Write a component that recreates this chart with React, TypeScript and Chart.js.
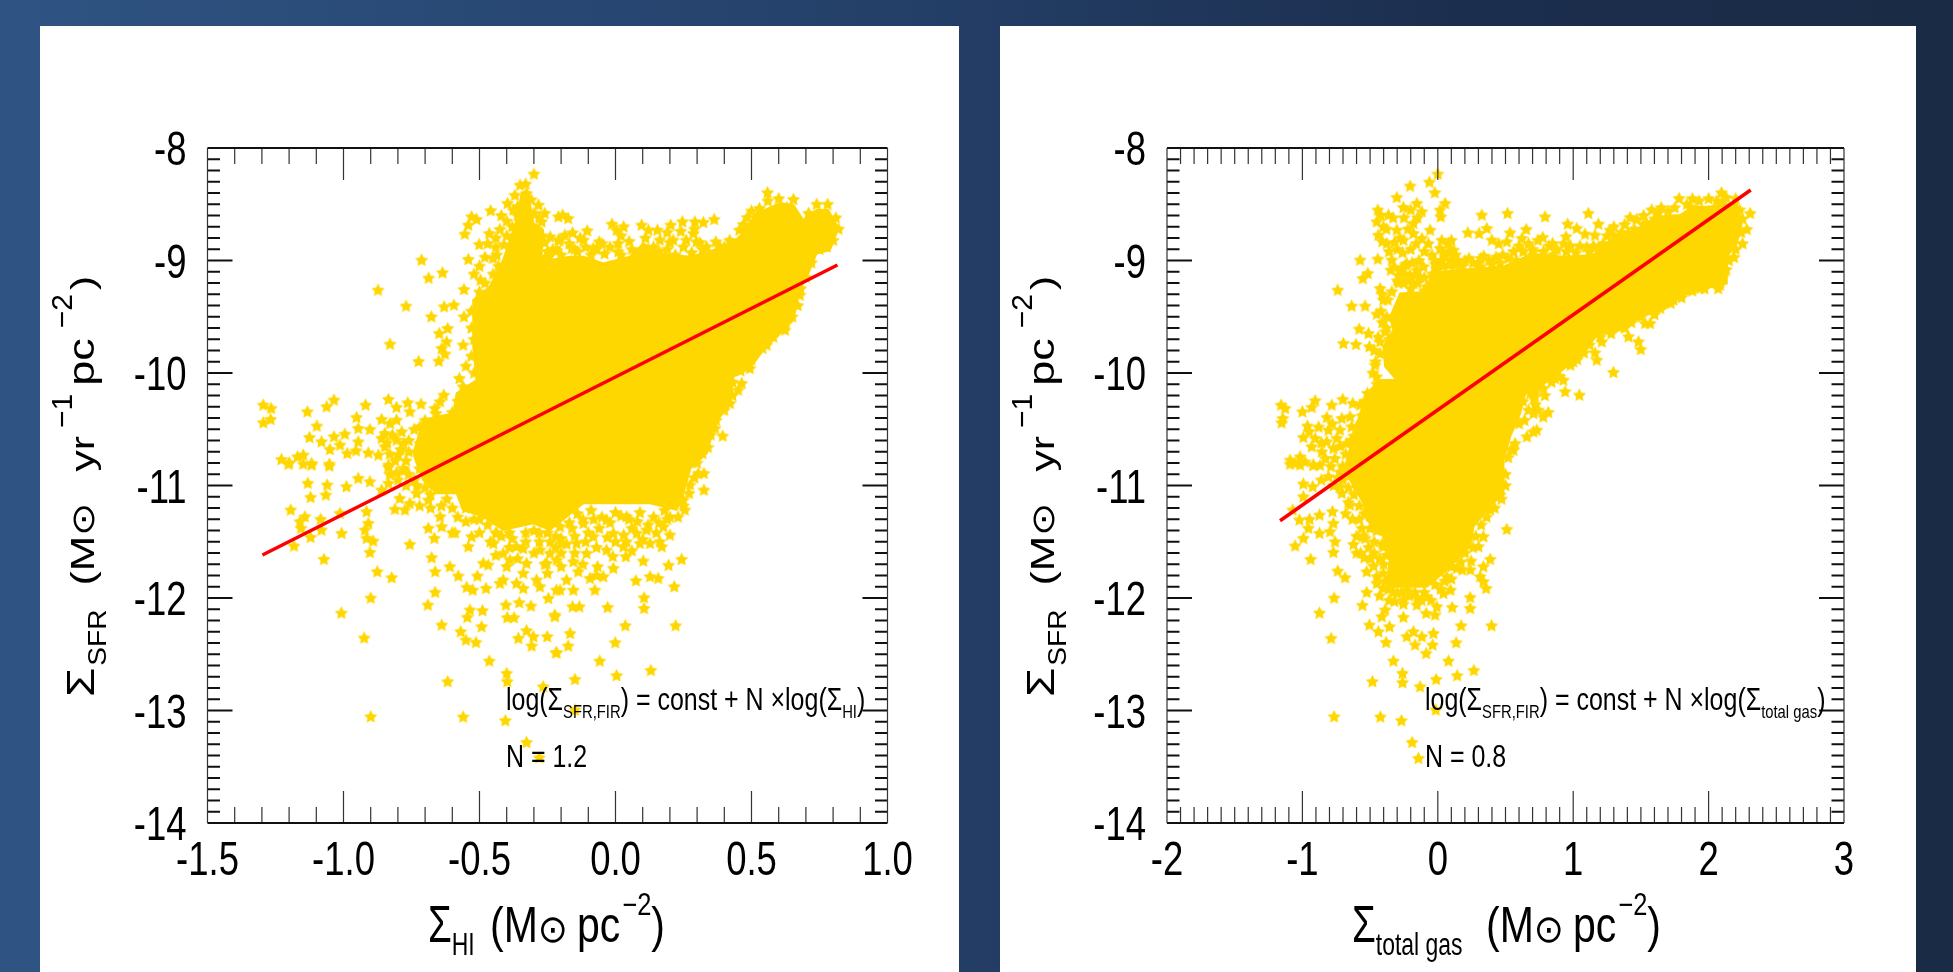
import React, { useEffect, useRef } from "react";
import { Chart, registerables } from "chart.js";

Chart.register(...registerables);

const hiTicks = [-1.5, -1.0, -0.5, 0.0, 0.5, 1.0];
const hiTickLabels = ["-1.5", "-1.0", "-0.5", "0.0", "0.5", "1.0"];
const gasTicks = [-2, -1, 0, 1, 2, 3];
const gasTickLabels = ["-2", "-1", "0", "1", "2", "3"];
const sfrTicks = [-14, -13, -12, -11, -10, -9, -8];
const sfrTickLabels = ["-14", "-13", "-12", "-11", "-10", "-9", "-8"];

const hiFit = [[-1.298, -11.618], [0.816, -9.04]];
const gasFit = [[-1.165, -11.313], [2.311, -8.373]];

// outline of the solid, fully overlapped part of each cloud
const hiCore = [
  [-0.596,-10.359],[-0.584,-10.181],[-0.511,-10.063],[-0.523,-9.766],[-0.523,-9.351],[-0.462,-9.233],[-0.413,-8.996],[-0.364,-8.64],[-0.345,-8.403],[-0.321,-8.403],[-0.302,-8.67],[-0.266,-8.729],[-0.272,-8.966],[-0.204,-8.877],
  [-0.241,-8.996],[-0.167,-8.966],[-0.118,-8.966],[-0.045,-9.026],[0.053,-8.966],[0.102,-8.848],[0.163,-8.937],[0.274,-8.966],[0.372,-8.907],[0.408,-8.877],[0.458,-8.788],[0.519,-8.581],[0.605,-8.492],[0.654,-8.507],[0.69,-8.64],[0.739,-8.551],[0.782,-8.551],[0.819,-8.714],[0.788,-8.907],[0.739,-8.937],[0.709,-9.114],[0.672,-9.292],[0.654,-9.529],[0.605,-9.648],[0.543,-9.796],[0.494,-9.959],[0.433,-10.033],[0.421,-10.27],[0.384,-10.389],[0.36,-10.507],[0.335,-10.714],[0.274,-10.848],
  [0.274,-10.862],[0.249,-11.069],[0.225,-11.217],[0.127,-11.158],[0.004,-11.158],[-0.118,-11.158],[-0.18,-11.277],[-0.241,-11.395],
  [-0.302,-11.336],[-0.413,-11.395],[-0.486,-11.277],[-0.56,-11.217],[-0.584,-11.069],[-0.658,-11.069],[-0.707,-10.951],[-0.731,-10.803],[-0.743,-10.714],[-0.707,-10.418],[-0.658,-10.389],[-0.596,-10.359],
];

const hiStars = [
  [-0.3,-8.231],[-0.351,-8.329],[-0.327,-8.403],[-0.397,-8.492],[-0.459,-8.557],[-0.283,-8.507],[-0.529,-8.611],[-0.511,-8.634],[-0.541,-8.685],[-0.554,-8.765],[-0.464,-8.759],[-0.425,-8.723],[-0.501,-8.857],[-0.541,-8.99],[-0.437,-8.951],[-0.713,-8.996],[-0.636,-9.108],[-0.687,-9.156],[-0.873,-9.263],[-0.557,-9.257],[-0.496,-9.174],[-0.77,-9.405],[-0.63,-9.411],[-0.594,-9.396],[-0.677,-9.5],[-0.557,-9.5],[-0.617,-9.603],[-0.648,-9.648],[-0.621,-9.722],[-0.829,-9.743],[-0.639,-9.781],[-0.627,-9.831],[-0.65,-9.894],[-0.724,-9.897],[-0.56,-9.751],[-0.55,-9.938],[-0.574,-10.048],[-0.56,-10.122],[-0.631,-10.196],[-0.645,-10.255],
  [-1.295,-10.285],[-1.266,-10.314],[-1.295,-10.442],[-1.268,-10.412],[-1.133,-10.344],[-1.035,-10.24],[-1.062,-10.299],[-0.919,-10.285],[-0.835,-10.234],[-0.764,-10.264],[-0.715,-10.276],[-0.805,-10.305],[-0.756,-10.344],[-0.664,-10.314],[-0.952,-10.394],[-0.86,-10.412],[-0.805,-10.418],[-1.098,-10.471],[-0.946,-10.492],[-0.903,-10.501],[-0.995,-10.543],[-1.035,-10.566],[-1.125,-10.572],[-1.081,-10.611],[-0.946,-10.611],[-0.848,-10.537],[-0.786,-10.522],[-0.719,-10.477],[-1.013,-10.64],[-1.05,-10.679],[-0.954,-10.691],[-0.986,-10.715],[-0.909,-10.709],[-0.872,-10.729],[-0.848,-10.655],[-0.799,-10.729],[-0.78,-10.625],[-0.719,-10.625],[-1.228,-10.768],[-1.199,-10.798],[-1.169,-10.744],[-1.148,-10.729],[-1.117,-10.803],[-1.052,-10.809],[-0.835,-10.818],[-0.78,-10.848],[-0.805,-10.596],[-0.829,-10.448],
  [-1.203,-10.809],[-1.148,-10.809],[-1.117,-10.817],[-1.052,-10.826],[-0.835,-10.838],[-0.805,-10.886],[-0.778,-10.868],[-0.946,-10.936],[-0.903,-10.966],[-0.989,-11.01],[-1.131,-10.98],[-1.06,-10.995],[-1.121,-11.105],[-1.065,-11.084],[-0.835,-10.98],[-0.86,-11.04],[-1.194,-11.217],[-1.142,-11.277],[-1.16,-11.321],[-1.156,-11.38],[-1.084,-11.3],[-1.081,-11.395],[-1.013,-11.247],[-1.007,-11.425],[-1.121,-11.46],[-1.182,-11.537],[-0.915,-11.232],[-0.909,-11.336],[-0.921,-11.395],[-0.915,-11.469],[-0.891,-11.493],[-0.903,-11.594],[-1.072,-11.656],[-0.876,-11.766],[-0.823,-11.819],[-0.9,-12.0],[-1.008,-12.133],[-0.924,-12.355],
  [-0.811,-11.211],[-0.774,-11.217],[-0.756,-11.158],[-0.793,-11.114],[-0.731,-11.069],[-0.688,-11.129],[-0.756,-11.523],[-0.688,-11.38],[-0.666,-11.469],[-0.645,-11.277],[-0.639,-11.366],[-0.59,-11.419],[-0.541,-11.543],[-0.529,-11.454],[-0.676,-11.641],[-0.663,-11.766],[-0.609,-11.721],[-0.578,-11.804],[-0.508,-11.804],[-0.547,-11.905],[-0.525,-11.929],[-0.476,-11.914],[-0.663,-11.949],[-0.69,-12.062],[-0.639,-12.24],[-0.535,-12.106],[-0.489,-12.112],[-0.545,-12.171],[-0.492,-12.255],[-0.569,-12.299],[-0.55,-12.373],[-0.513,-12.394],[-0.464,-12.56],[-0.4,-12.669],[-0.398,-12.743],[-0.617,-12.743],[-0.9,-13.055],[-0.56,-13.057],[-0.405,-13.09],[-0.327,-13.283],[-0.28,-13.419],[-0.266,-12.788],
  [-0.468,-11.706],[-0.413,-11.84],[-0.388,-11.662],[-0.339,-11.78],[-0.29,-11.84],[-0.339,-11.914],[-0.253,-11.692],[-0.449,-11.514],[-0.403,-12.062],[-0.354,-12.041],[-0.311,-12.071],[-0.398,-12.174],[-0.373,-12.174],[-0.247,-12.003],[-0.223,-12.151],[-0.357,-12.358],[-0.327,-12.29],[-0.302,-12.343],[-0.308,-12.426],[-0.251,-12.343],[-0.219,-12.486],[-0.217,-11.929],[-0.425,-11.869],[-0.364,-11.869],[-0.278,-11.899],[-0.486,-11.691],[-0.413,-11.603],[-0.327,-11.692],[-0.241,-11.603],[-0.278,-11.573],[-0.364,-11.543],[-0.437,-11.425],
  [0.304,-10.892],[0.325,-10.892],[0.325,-11.04],[0.274,-10.995],[0.255,-11.217],[0.249,-11.129],[0.2,-11.44],[0.163,-11.499],[0.243,-11.656],[0.195,-11.709],[0.102,-11.671],[0.038,-11.632],[0.127,-11.81],[0.157,-11.825],[0.075,-11.846],[0.216,-11.899],[0.105,-11.997],[0.105,-12.092],[0.221,-12.246],[-0.029,-12.083],[0.036,-12.246],[-0.001,-12.397],[-0.058,-12.56],[0.13,-12.643],[0.004,-12.69],[-0.149,-12.723],[-0.149,-12.995],[-0.167,-12.314],[-0.174,-12.426],[-0.216,-12.486],[-0.158,-12.077],[-0.133,-12.077],[-0.223,-12.166],[-0.076,-11.929],[-0.155,-11.929],[-0.204,-11.929],[-0.045,-11.81],[-0.008,-11.736],[-0.066,-11.721],[-0.094,-11.825],[-0.137,-11.766],[-0.18,-11.84],[-0.155,-11.677],[-0.216,-11.662],[-0.106,-11.603],[-0.033,-11.573],[0.029,-11.543],[0.09,-11.514],[0.127,-11.514],[0.17,-11.543],[0.078,-11.425],[-0.008,-11.425],[-0.082,-11.454],[-0.143,-11.514],[-0.198,-11.514],[0.114,-11.395],[0.176,-11.366],[-0.033,-11.306],[0.041,-11.277],[-0.118,-11.336],[-0.204,-11.366],
  [0.559,-8.397],[0.654,-8.457],[0.529,-8.537],[0.484,-8.617],[0.455,-8.729],[0.369,-8.833],[0.363,-8.634],[0.323,-8.661],[0.292,-8.655],[0.246,-8.655],[0.203,-8.685],[0.286,-8.759],[0.298,-8.833],[0.212,-8.818],[0.154,-8.729],[0.121,-8.729],[0.096,-8.685],[0.163,-8.818],[0.004,-8.729],[-0.013,-8.676],[0.01,-8.848],[0.01,-8.922],[-0.06,-8.833],[-0.104,-8.735],[-0.118,-8.818],[-0.082,-8.892],[-0.158,-8.753],[-0.186,-8.774],[-0.204,-8.818],[-0.194,-8.596],[-0.174,-8.626],[-0.161,-8.892],[-0.216,-8.907],[0.335,-8.877],[0.384,-8.877],[0.776,-8.877],[0.464,-10.092],[0.451,-10.151],[0.421,-10.27],[0.394,-10.56],[0.366,-10.492],[0.32,-10.715],[0.286,-10.774],[0.494,-9.959],[0.623,-9.618],[0.678,-9.307],[0.556,-9.751],[-0.21,-8.611],[-0.21,-8.818],[-0.315,-8.581],[-0.272,-8.655],[-0.376,-8.551],[-0.302,-8.937],
  [-0.44,-8.88],[-0.4,-8.78],[-0.36,-8.52],[-0.38,-8.7],[-0.33,-8.78],[-0.3,-8.84],[-0.25,-8.92],[-0.24,-8.79],[-0.29,-8.72],[-0.34,-8.62],[-0.31,-8.46],[-0.26,-8.58],
  [-0.17,-8.85],[-0.14,-8.92],[-0.09,-8.95],[-0.04,-8.94],[0.02,-8.78],[0.06,-8.9],[0.11,-8.8],[0.14,-8.88],[0.19,-8.75],[0.19,-8.9],[0.24,-8.74],[0.25,-8.88],[0.29,-8.72],[0.32,-8.9],[0.42,-8.82],[0.47,-8.68],[0.5,-8.56],[0.56,-8.47],[0.6,-8.45],[0.63,-8.53],[0.71,-8.58],[0.74,-8.5],[0.78,-8.5],[0.81,-8.62],[0.82,-8.72],[0.8,-8.82],[0.75,-8.9],[0.72,-9.02],[0.7,-9.15],[0.68,-9.25],[0.67,-9.4],[0.65,-9.5],[0.62,-9.6],[0.58,-9.68],[0.54,-9.78],[0.5,-9.88],[0.46,-9.98],[0.43,-10.08],[0.43,-10.2],[0.4,-10.33],[0.37,-10.42],[0.35,-10.55],[0.34,-10.66],[0.3,-10.8],[0.29,-10.93],[0.27,-11.07],[0.25,-11.18],[0.23,-11.28],[0.19,-11.3],
  [-0.53,-9.45],[-0.53,-9.6],[-0.52,-9.7],[-0.53,-9.85],[-0.52,-10.0],[-0.58,-10.25],[-0.6,-10.35],[-0.66,-10.36],[-0.7,-10.42],[-0.74,-10.5],[-0.76,-10.6],[-0.76,-10.7],[-0.72,-10.85],[-0.74,-10.95],[-0.7,-11.02],[-0.68,-11.08],[-0.62,-11.12],[-0.6,-11.2],[-0.58,-11.28],[-0.52,-11.3],[-0.47,-11.35],[-0.42,-11.45],[-0.38,-11.47],[-0.33,-11.42],[-0.28,-11.42],[-0.24,-11.5],[-0.2,-11.47],[-0.16,-11.38],
  [-0.14,-11.25],[-0.09,-11.22],[-0.05,-11.28],[0.0,-11.24],[0.05,-11.3],[0.09,-11.24],[0.14,-11.28],[0.18,-11.22],[-0.15,-11.45],[-0.1,-11.42],[-0.06,-11.38],[-0.03,-11.46],[0.03,-11.44],[0.06,-11.38],[0.1,-11.48],[0.15,-11.42],[-0.2,-11.6],[-0.15,-11.6],[-0.07,-11.55],[-0.01,-11.63],[0.06,-11.58],[-0.26,-11.7],[-0.3,-11.6],[-0.36,-11.65],[-0.4,-11.72],[-0.44,-11.62],[-0.33,-11.5],[-0.25,-11.78],[-0.2,-11.72],[-0.12,-11.7],[-0.07,-11.8],[-0.39,-11.55],[-0.46,-11.5],[-0.5,-11.42],[-0.55,-11.32],[-0.6,-11.42],[-0.64,-11.18],[-0.68,-11.2],[-0.72,-11.18],
  [-0.46,-9.33],[-0.48,-9.2],[-0.45,-9.12],[-0.43,-9.05],[-0.5,-9.28],[-0.82,-10.55],[-0.84,-10.62],[-0.86,-10.58],[-0.79,-10.68],[-0.77,-10.78],[-0.83,-10.72],[-0.81,-10.78],[-0.76,-10.9],[-0.73,-11.0],[-0.77,-11.0],[-0.8,-10.95],[-0.83,-10.9],
  [-0.2,-8.95],[-0.15,-8.9],[-0.11,-8.88],[-0.07,-8.9],[-0.02,-8.88],[0.02,-8.95],[0.05,-8.83],[0.08,-8.95],[0.12,-8.9],[0.16,-8.92],[0.2,-8.84],[0.22,-8.95],[0.26,-8.82],[0.28,-8.93],[0.31,-8.84],[0.34,-8.95],[0.37,-8.92],[0.4,-8.88],[0.43,-8.9],[0.47,-8.8],[0.5,-8.7],[0.52,-8.62],[0.03,-8.7],[-0.05,-8.85],[-0.13,-8.8],[-0.23,-8.9],[-0.26,-8.84],
  [-0.37,-8.42],[-0.33,-8.32],[-0.36,-8.6],[-0.3,-8.58],[-0.28,-8.62],[-0.27,-8.78],[-0.32,-8.9],[-0.36,-8.82],[-0.41,-8.86],[-0.45,-8.98],[-0.48,-8.97],[-0.5,-9.05],[-0.52,-9.12],[-0.47,-8.85],[-0.44,-8.8],[-0.4,-8.65],[-0.42,-8.6],
  [-0.5,-11.3],[-0.44,-11.42],[-0.39,-11.42],[-0.3,-11.4],[-0.25,-11.42],[-0.22,-11.45],[-0.17,-11.33],[-0.12,-11.3],[-0.08,-11.3],[-0.02,-11.33],[0.02,-11.27],[0.08,-11.32],[0.12,-11.35],[0.16,-11.33],[0.2,-11.28],[-0.34,-11.56],[-0.28,-11.5],[-0.22,-11.55],[-0.18,-11.52],[-0.11,-11.5],[0.0,-11.5],[0.04,-11.5],[-0.55,-11.2],
];

const gasCore = [
  [-0.672,-10.774],[-0.574,-10.359],[-0.5,-10.151],[-0.426,-10.063],[-0.303,-10.063],[-0.389,-9.944],[-0.402,-9.766],[-0.328,-9.618],[-0.352,-9.5],[-0.278,-9.292],[-0.057,-9.277],[-0.057,-9.114],[0.14,-9.085],[0.288,-9.07],[0.485,-9.055],[0.756,-8.907],
  [0.681,-8.937],[0.927,-8.966],[1.149,-8.951],[1.272,-8.818],[1.42,-8.759],[1.617,-8.611],[1.789,-8.596],[1.888,-8.522],[1.986,-8.522],[2.208,-8.492],[2.245,-8.67],[2.208,-8.848],[2.134,-8.966],[2.134,-9.203],[1.962,-9.248],[1.789,-9.322],[1.666,-9.44],[1.494,-9.5],[1.346,-9.618],[1.174,-9.663],[1.075,-9.826],[0.952,-9.944],[0.853,-10.033],[0.755,-10.122],[0.706,-10.3],
  [0.658,-10.122],[0.608,-10.359],[0.534,-10.566],[0.485,-10.774],[0.485,-10.862],[0.485,-11.069],[0.362,-11.217],[0.263,-11.366],[0.239,-11.543],[0.066,-11.751],[-0.081,-11.899],[-0.377,-11.899],[-0.352,-11.632],[-0.402,-11.454],[-0.525,-11.306],[-0.549,-11.158],[-0.648,-10.951],[-0.697,-10.892],[-0.672,-10.774],
];

const gasStars = [
  [0,-8.231],[-0.062,-8.303],[-0.204,-8.338],[-0.022,-8.397],[-0.303,-8.439],[0.054,-8.492],[-0.254,-8.528],[-0.155,-8.492],[-0.118,-8.566],[0.017,-8.551],[0.022,-8.611],[-0.443,-8.551],[-0.365,-8.596],[-0.451,-8.655],[-0.402,-8.7],[-0.439,-8.774],[-0.303,-8.729],[-0.18,-8.67],[-0.057,-8.729],[-0.254,-8.818],[-0.377,-8.848],[-0.118,-8.803],[-0.18,-8.759],
  [0.325,-8.596],[0.515,-8.581],[0.362,-8.714],[0.222,-8.753],[0.305,-8.759],[0.399,-8.818],[0.534,-8.753],[0.653,-8.723],[0.621,-8.803],[0.51,-8.833],[0.079,-8.848],[0.017,-8.892],[0.116,-8.907],[0.042,-8.937],[-0.044,-8.951],[0.128,-9.04],[0.318,-8.981],[0.313,-9.055],[-0.574,-8.996],[-0.443,-8.987],[-0.34,-8.996],[-0.347,-9.085],[-0.517,-9.114],[-0.554,-9.159],[-0.229,-9.026],[-0.155,-9.085],[-0.291,-9.129],[-0.204,-9.129],[-0.106,-9.055],[-0.18,-9.203],[-0.081,-9.233],[-0.739,-9.263],[-0.426,-9.248],[-0.34,-9.277],[-0.636,-9.405],[-0.537,-9.405],[-0.402,-9.351],[-0.451,-9.476],[-0.377,-9.5],[-0.581,-9.609],[-0.512,-9.648],[-0.697,-9.737],[-0.604,-9.746],[-0.505,-9.766],[-0.426,-9.722],[-0.389,-9.633],[-0.463,-9.929],[-0.426,-9.826],[-0.451,-10.033],
  [-1.158,-10.285],[-1.128,-10.314],[-1.153,-10.442],[-1.145,-10.403],[-1.0,-10.344],[-0.906,-10.246],[-0.931,-10.305],[-0.783,-10.285],[-0.702,-10.234],[-0.628,-10.27],[-0.574,-10.285],[-0.82,-10.394],[-0.709,-10.403],[-0.648,-10.388],[-0.963,-10.471],[-0.808,-10.507],[-0.722,-10.507],[-0.636,-10.477],[-0.993,-10.572],[-0.906,-10.581],[-0.82,-10.611],[-0.746,-10.581],[-0.673,-10.625],[-0.931,-10.655],[-0.857,-10.7],[-0.771,-10.67],[-1.091,-10.774],[-1.017,-10.744],[-1.054,-10.803],[-0.98,-10.789],[-0.919,-10.818],[-0.702,-10.827],
  [0.682,-10.181],[0.67,-10.329],[0.658,-10.566],[0.571,-10.626],[0.559,-10.685],[0.731,-10.507],[0.707,-10.359],
  [0.792,-8.611],[1.112,-8.581],[0.959,-8.676],[1.026,-8.714],[1.186,-8.676],[0.947,-8.788],[1.087,-8.765],[0.775,-8.794],[0.848,-8.848],[1.272,-8.729],[1.161,-8.774],[1.42,-8.617],[1.469,-8.634],[1.408,-8.759],[1.346,-8.774],[1.186,-8.892],[1.543,-8.67],[1.629,-8.575],[1.782,-8.448],[1.863,-8.522],[2.095,-8.397],[2.097,-8.492],[2.307,-8.581],[2.282,-8.723],[2.188,-8.972],[2.109,-9.144],[2.085,-9.218],[1.937,-9.248],[1.826,-9.263],[1.74,-9.351],[1.642,-9.425],[1.531,-9.559],[1.568,-9.559],[1.408,-9.677],[1.482,-9.722],[1.499,-9.79],[1.297,-9.994],[1.211,-9.722],[1.161,-9.82],[1.174,-9.885],[1.001,-9.9],[1.046,-10.196],[0.94,-10.166],[0.927,-10.063],[0.866,-10.048],[0.779,-10.137],[0.718,-10.211],[0.743,-10.329],[0.816,-10.35],[0.779,-10.389],[0.706,-10.522],[1.346,-9.589],[1.247,-9.618],
  [-1.091,-10.809],[-1.017,-10.817],[-0.919,-10.817],[-0.808,-10.921],[-0.697,-10.847],[-0.993,-10.986],[-0.924,-11.01],[-0.993,-11.099],[-0.722,-11.01],[-0.648,-11.173],[-0.709,-11.069],[-1.071,-11.217],[-0.874,-11.262],[-0.778,-11.232],[-1.022,-11.306],[-0.948,-11.3],[-0.956,-11.38],[-0.771,-11.336],[-0.796,-11.41],[-0.874,-11.425],[-0.759,-11.499],[-0.993,-11.469],[-1.054,-11.537],[-0.771,-11.594],[-0.939,-11.656],[-0.623,-11.523],[-0.537,-11.469],[-0.562,-11.38],[-0.402,-11.543],[-0.542,-11.641],[-0.475,-11.715],[-0.525,-11.766],[-0.739,-11.76],[-0.685,-11.819],[-0.451,-11.81],[-0.766,-12.0],[-0.874,-12.133],[-0.788,-12.358],[-0.525,-11.949],[-0.557,-12.065],[-0.402,-11.914],[-0.389,-12.106],[-0.414,-12.166],[-0.357,-12.255],[-0.505,-12.24],[-0.438,-12.299],[-0.382,-12.394],
  [-0.254,-12.053],[-0.254,-12.171],[-0.18,-12.299],[-0.229,-12.343],[-0.168,-12.417],[-0.118,-12.343],[-0.032,-12.314],[-0.039,-12.417],[-0.086,-12.492],[-0.155,-12.062],[-0.086,-12.136],[-0.007,-12.077],[-0.02,-12.151],[0.106,-12.083],[0.172,-12.246],[0.397,-12.246],[0.135,-12.397],[0.239,-11.994],[0.239,-12.092],[0.094,-11.929],[0.357,-11.914],[0.313,-11.81],[0.337,-11.854],[0.337,-11.721],[0.387,-11.656],[0.246,-11.671],[0.14,-11.736],[0.066,-11.81],[0.51,-11.389],[0.337,-11.454],[0.3,-11.543],[0.387,-11.217],[0.46,-11.084],[-0.328,-12.56],[-0.261,-12.669],[-0.261,-12.752],[-0.483,-12.743],[-0.766,-13.055],[-0.424,-13.057],[-0.269,-13.09],[-0.19,-13.283],[-0.143,-13.425],[-0.012,-12.723],[-0.131,-12.788],[0.079,-12.56],[0.143,-12.69],[0.266,-12.643],[-0.015,-12.995],[-0.402,-11.78],[-0.254,-12.017],[-0.081,-11.988],[0.042,-11.958],
  [-0.41,-9.3],[-0.37,-9.35],[-0.41,-9.55],[-0.44,-9.68],[-0.47,-9.8],[-0.46,-9.9],[-0.48,-10.0],[-0.45,-10.1],[-0.52,-10.18],[-0.54,-10.25],[-0.42,-9.45],[-0.38,-9.6],[-0.36,-9.7],[-0.29,-9.2],[-0.22,-9.18],[-0.13,-9.15],[-0.04,-9.12],[-0.02,-9.03],[0.04,-9.05],[0.1,-9.0],[0.15,-9.0],[0.23,-8.98],[0.26,-9.02],[0.38,-9.0],[0.43,-8.97],[0.48,-8.95],[0.56,-8.92],[0.6,-8.87],[0.67,-8.85],[0.74,-8.82],[0.82,-8.87],[0.88,-8.9],[0.93,-8.85],[0.98,-8.87],[1.05,-8.87],[1.1,-8.88],[1.15,-8.87],[1.22,-8.85],[1.25,-8.78],[1.3,-8.7],[1.38,-8.68],[1.52,-8.6],[1.58,-8.55],[1.65,-8.53],[1.7,-8.56],[1.75,-8.53],[1.84,-8.5],[1.88,-8.45],[1.93,-8.47],[2.0,-8.45],[2.06,-8.47],[2.13,-8.44],[2.2,-8.45],[2.23,-8.55],[2.25,-8.63],[2.24,-8.75],[2.25,-8.85],[2.2,-8.9],[2.15,-9.0],[2.13,-9.08],[2.07,-9.25],[2.03,-9.2],[1.97,-9.25],[1.88,-9.27],[1.8,-9.33],[1.72,-9.38],[1.6,-9.48],[1.5,-9.5],[1.43,-9.55],[1.38,-9.6],[1.28,-9.65],[1.2,-9.68],[1.12,-9.75],[1.08,-9.82],[1.03,-9.88],[0.98,-9.93],[0.9,-10.03],[0.84,-10.08],[0.79,-10.2],[0.72,-10.28],
  [0.5,-10.9],[0.5,-11.0],[0.47,-11.12],[0.42,-11.2],[0.36,-11.28],[0.32,-11.35],[0.28,-11.45],[0.26,-11.55],[0.2,-11.6],[0.17,-11.68],[0.1,-11.72],[0.05,-11.85],[-0.02,-11.88],[-0.1,-11.95],[-0.17,-11.95],[-0.23,-11.93],[-0.3,-11.95],[-0.36,-11.92],[-0.39,-11.85],[-0.4,-11.7],[-0.38,-11.62],[-0.41,-11.52],[-0.45,-11.4],[-0.5,-11.38],[-0.54,-11.25],[-0.58,-11.18],[-0.62,-11.08],[-0.66,-11.02],[-0.7,-10.95],[-0.72,-10.88],[-0.68,-10.72],[-0.64,-10.6],[-0.6,-10.48],[-0.56,-10.38],[-0.53,-10.3],[0.6,-10.45],[0.63,-10.25],[0.64,-10.42],[0.54,-10.68],[0.52,-10.75],
  [-0.33,-8.62],[-0.38,-8.72],[-0.42,-8.6],[-0.41,-8.83],[-0.32,-8.84],[-0.28,-8.8],[-0.22,-8.72],[-0.25,-8.62],[-0.15,-8.62],[-0.2,-8.55],[-0.16,-8.85],[-0.2,-8.9],[-0.26,-8.93],[-0.3,-8.9],[-0.36,-8.92],[-0.24,-9.04],[-0.27,-9.08],[-0.19,-9.02],[-0.32,-9.06],[-0.3,-9.18],[-0.14,-9.0],[-0.1,-8.92],[-0.07,-8.85],[0.03,-8.82],[0.08,-8.92],[0.1,-8.82],[0.13,-8.95],[-0.02,-9.0],[0.05,-8.97],[0.45,-8.85],
  [-0.33,-11.95],[-0.27,-11.95],[-0.21,-11.98],[-0.15,-12.0],[-0.12,-12.02],[-0.05,-12.02],[0.02,-11.92],[0.1,-11.83],[0.18,-11.75],[0.24,-11.75],[-0.36,-12.02],[-0.32,-12.03],[-0.43,-11.98],[-0.45,-11.87],[-0.47,-11.6],[-0.47,-11.5],[-0.43,-11.65],
  [-0.62,-10.56],[-0.86,-10.62],[-0.95,-10.52],[-0.88,-10.48],[-0.78,-10.45],[-0.72,-10.65],[-0.76,-10.76],[-0.83,-10.76],[-0.87,-10.82],[-0.79,-10.83],[-0.74,-10.93],[-0.86,-10.95],[-0.77,-11.0],[-0.66,-11.15],[-0.68,-11.25],[-0.63,-11.3],[-0.58,-11.3],[-0.55,-11.45],[-0.6,-11.45],[-0.6,-11.6],[-0.57,-11.6],[-0.51,-11.55],[-0.5,-11.65],
  [-0.25,-9.2],[-0.2,-9.25],[-0.15,-9.2],[-0.1,-9.27],[-0.1,-9.15],[-0.05,-9.2],[-0.24,-9.12],[-0.17,-9.13],[-0.01,-9.07],[0.03,-9.0],[0.08,-9.04],[0.18,-9.05],[0.2,-9.0],[0.3,-9.02],[0.34,-8.96],[0.4,-9.03],[0.46,-9.02],[0.52,-8.98],[0.58,-9.0],[0.63,-8.92],[0.7,-8.9],[0.78,-8.92],[0.85,-8.95],[0.95,-8.92],[1.02,-8.93],[1.12,-8.92],[1.2,-8.9],[1.3,-8.78],[1.36,-8.75],[1.45,-8.72],[1.52,-8.68],[1.6,-8.63],
];

const SANS = '"Liberation Sans"';
const GOLD = "#FFD700";

type Run = { t: string; size: number; dy?: number; font?: string; gap?: number; k?: number };

function drawRuns(ctx: CanvasRenderingContext2D, runs: Run[], k0: number) {
  let x = 0;
  for (const r of runs) {
    const k = r.k ?? k0;
    ctx.font = `${r.size}px ${r.font ?? SANS}`;
    ctx.save();
    ctx.translate(x, r.dy ?? 0);
    ctx.scale(k, 1);
    ctx.fillText(r.t, 0, 0);
    ctx.restore();
    x += ctx.measureText(r.t).width * k + (r.gap ?? 0);
  }
}

function makeStar() {
  const c = document.createElement("canvas");
  c.width = 15;
  c.height = 15;
  const g = c.getContext("2d")!;
  g.fillStyle = GOLD;
  g.beginPath();
  for (let i = 0; i < 10; i++) {
    const r = i % 2 === 0 ? 7 : 3.5;
    const a = -Math.PI / 2 + (i * Math.PI) / 5;
    g.lineTo(7.5 + r * Math.cos(a), 7.8 + r * Math.sin(a));
  }
  g.closePath();
  g.fill();
  return c;
}

type PanelProps = {
  left: number;
  width: number;
  xMin: number;
  xMax: number;
  xTicks: number[];
  xLabels: string[];
  fit: number[][];
  core: number[][];
  stars: number[][];
  xSub: string;
  xTitleX: [number, number];
  noteX: number;
  noteSub: string;
  noteN: string;
  plotLeft: number;
  plotRightGap: number;
};

function Panel(p: PanelProps) {
  const ref = useRef<HTMLCanvasElement>(null);
  useEffect(() => {
    const star = makeStar();
    const frame = {
      id: "frame",
      afterDatasetsDraw(chart: any) {
        const { ctx, chartArea: a, scales } = chart;
        const X = scales.x, Y = scales.y;
        ctx.save();
        ctx.strokeStyle = "#333";
        ctx.lineWidth = 1.2;
        const nx = Math.round((p.xMax - p.xMin) * 10);
        const majorEvery = Math.round((p.xTicks[1] - p.xTicks[0]) * 10);
        for (let i = 1; i < nx; i++) {
          const px = X.getPixelForValue(p.xMin + i / 10);
          const len = i % majorEvery === 0 ? 32 : 16;
          ctx.beginPath();
          ctx.moveTo(px, a.top);
          ctx.lineTo(px, a.top + len);
          ctx.moveTo(px, a.bottom);
          ctx.lineTo(px, a.bottom - len);
          ctx.stroke();
        }
        ctx.strokeStyle = "#111";
        ctx.lineWidth = 2;
        for (let i = 1; i < 60; i++) {
          const py = Y.getPixelForValue(-8 - i / 10);
          const len = i % 10 === 0 ? 25 : 12.5;
          ctx.beginPath();
          ctx.moveTo(a.left, py);
          ctx.lineTo(a.left + len, py);
          ctx.moveTo(a.right, py);
          ctx.lineTo(a.right - len, py);
          ctx.stroke();
        }
        ctx.beginPath();
        ctx.moveTo(a.left, a.top);
        ctx.lineTo(a.right, a.top);
        ctx.moveTo(a.left, a.bottom);
        ctx.lineTo(a.right, a.bottom);
        ctx.stroke();
        ctx.lineWidth = 1.2;
        ctx.strokeStyle = "#333";
        ctx.beginPath();
        ctx.moveTo(a.left, a.top);
        ctx.lineTo(a.left, a.bottom);
        ctx.moveTo(a.right, a.top);
        ctx.lineTo(a.right, a.bottom);
        ctx.stroke();

        ctx.fillStyle = "#000";
        ctx.textBaseline = "alphabetic";

        // tick labels, condensed like the reference
        ctx.font = `48px ${SANS}`;
        ctx.textAlign = "center";
        X.ticks.forEach((t: any) => {
          ctx.save();
          ctx.translate(X.getPixelForValue(t.value), 849);
          ctx.scale(0.76, 1);
          ctx.fillText(t.label, 0, 0);
          ctx.restore();
        });
        ctx.textAlign = "right";
        Y.ticks.forEach((t: any) => {
          ctx.save();
          ctx.translate(a.left - 21, Y.getPixelForValue(t.value) + 17);
          ctx.scale(0.76, 1);
          ctx.fillText(t.label, 0, 0);
          ctx.restore();
        });
        ctx.textAlign = "left";

        // annotation
        ctx.save();
        ctx.translate(p.noteX, 684);
        drawRuns(ctx, [
          { t: "log(Σ", size: 32 },
          { t: "SFR,FIR", size: 19, dy: 8 },
          { t: ") = const + N ×log(Σ", size: 32 },
          { t: p.noteSub, size: 19, dy: 8 },
          { t: ")", size: 32 },
        ], 0.78);
        ctx.restore();
        ctx.save();
        ctx.translate(p.noteX, 741);
        drawRuns(ctx, [{ t: p.noteN, size: 32 }], 0.78);
        ctx.restore();

        // x-axis title
        ctx.save();
        ctx.translate(p.xTitleX[0], 916);
        drawRuns(ctx, [{ t: "Σ", size: 52 }, { t: p.xSub, size: 31, dy: 13 }], 0.74);
        ctx.restore();
        ctx.save();
        ctx.translate(p.xTitleX[1], 916);
        drawRuns(ctx, [
          { t: "(M", size: 50 },
          { t: "⊙", size: 38, font: '"DejaVu Sans"', gap: 9, k: 0.95 },
          { t: "pc", size: 50, gap: 2 },
          { t: "−2", size: 31, dy: -27 },
          { t: ")", size: 50 },
        ], 0.82);
        ctx.restore();

        // y-axis title
        ctx.save();
        ctx.translate(54, 671);
        ctx.rotate(-Math.PI / 2);
        drawRuns(ctx, [
          { t: "Σ", size: 38, gap: 2 },
          { t: "SFR", size: 26, dy: 12, k: 1.08, gap: 24 },
          { t: "(", size: 34 },
          { t: "M", size: 34 },
          { t: "⊙", size: 32, font: '"DejaVu Sans"', gap: 31 },
          { t: "yr", size: 34, gap: 8 },
          { t: "−1", size: 30, dy: -22, k: 1, gap: 8 },
          { t: "pc", size: 36, gap: 10 },
          { t: "−2", size: 30, dy: -22, k: 1, gap: 4 },
          { t: ")", size: 34 },
        ], 1.25);
        ctx.restore();
        ctx.restore();
      },
    };
    const chart = new Chart(ref.current!, {
      type: "scatter",
      data: {
        datasets: [
          {
            type: "line",
            data: p.fit.map(([x, y]) => ({ x, y })),
            borderColor: "#FF0000",
            borderWidth: 3.5,
            pointRadius: 0,
            fill: false,
            tension: 0,
            order: 0,
          },
          {
            data: p.stars.map(([x, y]) => ({ x, y })),
            pointStyle: star,
            pointRadius: 7,
            order: 1,
          },
          {
            type: "line",
            data: p.core.map(([x, y]) => ({ x, y })),
            borderColor: GOLD,
            backgroundColor: GOLD,
            borderWidth: 2,
            pointRadius: 0,
            fill: "shape",
            tension: 0,
            order: 2,
          },
        ] as any,
      },
      options: {
        responsive: false,
        animation: false,
        events: [],
        layout: { padding: { top: 122, right: p.plotRightGap, left: 0, bottom: 0 } },
        plugins: { legend: { display: false }, tooltip: { enabled: false } },
        scales: {
          x: {
            type: "linear",
            min: p.xMin,
            max: p.xMax,
            grid: { display: false },
            border: { display: false },
            afterFit: (s: any) => { s.height = 149; },
            afterBuildTicks: (s: any) => { s.ticks = p.xTicks.map((value) => ({ value })); },
            ticks: {
              display: false,
              autoSkip: false,
              maxRotation: 0,
              callback: (v: any) => p.xLabels[p.xTicks.indexOf(v)],
            },
          },
          y: {
            type: "linear",
            min: -14,
            max: -8,
            grid: { display: false },
            border: { display: false },
            afterFit: (s: any) => { s.width = p.plotLeft; },
            afterBuildTicks: (s: any) => { s.ticks = sfrTicks.map((value) => ({ value })); },
            ticks: {
              display: false,
              autoSkip: false,
              callback: (v: any) => sfrTickLabels[sfrTicks.indexOf(v)],
            },
          },
        },
      } as any,
      plugins: [frame],
    });
    return () => chart.destroy();
  }, []);
  return (
    <div style={{ position: "absolute", left: p.left, top: 26, width: p.width, height: 946, background: "#fff" }}>
      <canvas ref={ref} width={p.width} height={946} style={{ display: "block" }} />
    </div>
  );
}

export default function App() {
  return (
    <div
      style={{
        position: "fixed",
        inset: 0,
        overflow: "hidden",
        background: "linear-gradient(90deg, #2f5483 0%, #244069 45%, #1c2e4e 75%, #1a2b45 100%)",
      }}
    >
      <Panel
        left={40}
        width={919}
        xMin={-1.5}
        xMax={1.0}
        xTicks={hiTicks}
        xLabels={hiTickLabels}
        fit={hiFit}
        core={hiCore}
        stars={hiStars}
        xSub="HI"
        xTitleX={[388, 450]}
        noteX={466}
        noteSub="HI"
        noteN="N = 1.2"
        plotLeft={167.5}
        plotRightGap={71.5}
      />
      <Panel
        left={1000}
        width={916}
        xMin={-2}
        xMax={3}
        xTicks={gasTicks}
        xLabels={gasTickLabels}
        fit={gasFit}
        core={gasCore}
        stars={gasStars}
        xSub="total gas"
        xTitleX={[352, 486]}
        noteX={425}
        noteSub="total gas"
        noteN="N = 0.8"
        plotLeft={167}
        plotRightGap={72}
      />
    </div>
  );
}
